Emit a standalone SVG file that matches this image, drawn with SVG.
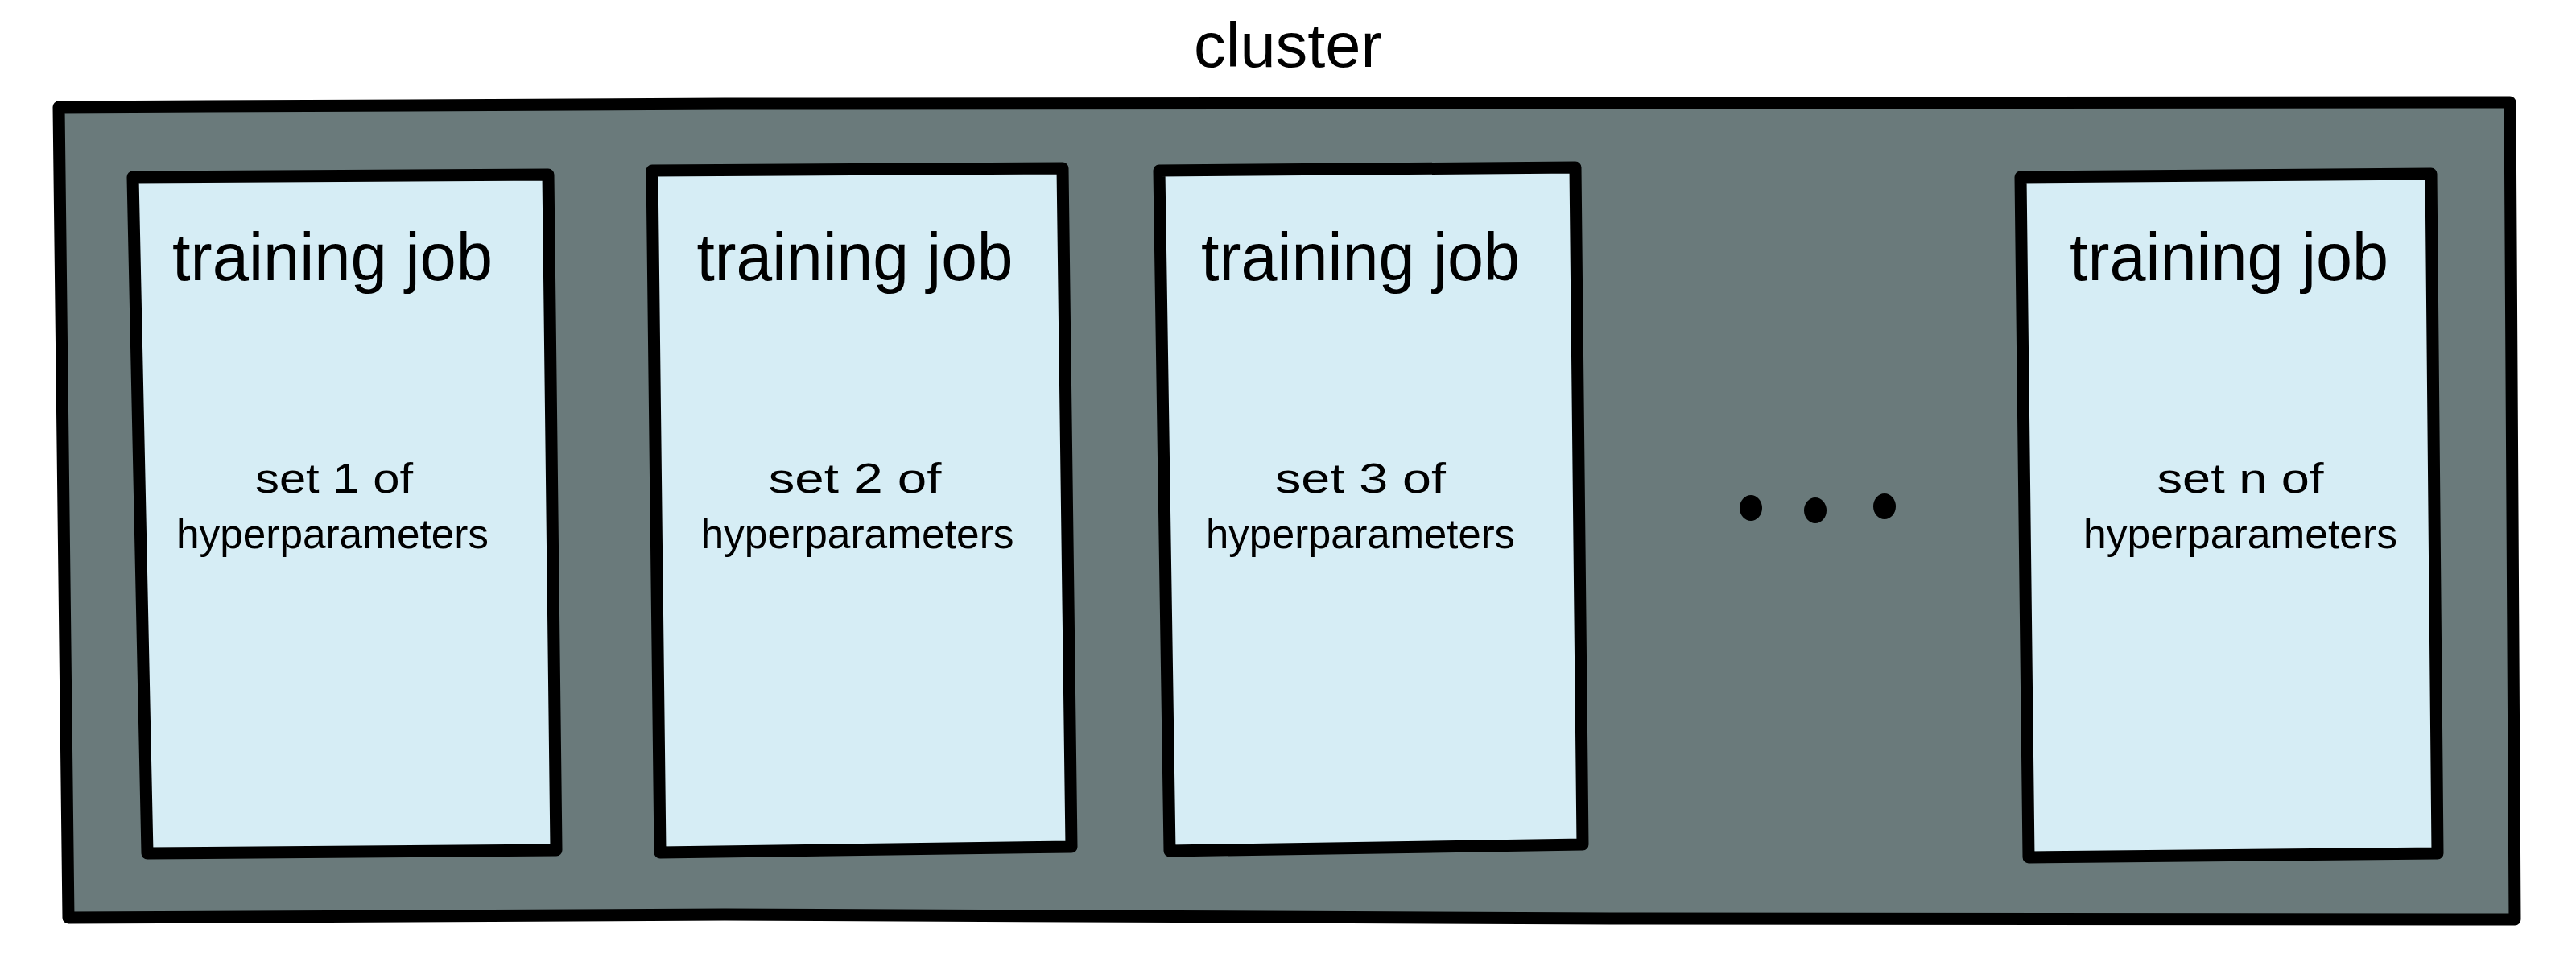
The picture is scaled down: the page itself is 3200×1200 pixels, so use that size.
<svg xmlns="http://www.w3.org/2000/svg" width="3200" height="1200" viewBox="0 0 3200 1200">
<style>
.cluster{fill:#6a7a7b;stroke:#000;stroke-width:15;stroke-linejoin:round}
.job{fill:#d6edf5;stroke:#000;stroke-width:15;stroke-linejoin:round}
.t{font-family:"Liberation Sans",Arial,sans-serif;fill:#000;text-anchor:middle}
.title{font-size:84px}
.sub{font-size:52px}
.lbl{font-size:78px}
.dot{fill:#000}
</style>
<rect width="3200" height="1200" fill="#fff"/>
<g id="cluster">
<path class="cluster" d="M73,133 L900,129 L2000,128 L3118,127 L3124,1142 L2000,1141 L900,1136 L85,1140 Z"/>
<text class="t lbl" x="1600" y="83" textLength="234" lengthAdjust="spacingAndGlyphs">cluster</text>
</g>
<g id="job1">
<path class="job" d="M165,220 L681,217 L691,1056 L183,1060 Z"/>
<text class="t title" x="413" y="348" textLength="398" lengthAdjust="spacingAndGlyphs">training job</text>
<text class="t sub" x="415" y="612" textLength="196" lengthAdjust="spacingAndGlyphs">set 1 of</text>
<text class="t sub" x="413" y="681" textLength="388" lengthAdjust="spacingAndGlyphs">hyperparameters</text>
</g>
<g id="job2">
<path class="job" d="M810,212 L1320,209 L1331,1052 L820,1059 Z"/>
<text class="t title" x="1062" y="348" textLength="393" lengthAdjust="spacingAndGlyphs">training job</text>
<text class="t sub" x="1062" y="612" textLength="215" lengthAdjust="spacingAndGlyphs">set 2 of</text>
<text class="t sub" x="1065" y="681" textLength="389" lengthAdjust="spacingAndGlyphs">hyperparameters</text>
</g>
<g id="job3">
<path class="job" d="M1440,212 L1957,208 L1966,1049 L1453,1057 Z"/>
<text class="t title" x="1690" y="348" textLength="396" lengthAdjust="spacingAndGlyphs">training job</text>
<text class="t sub" x="1690" y="612" textLength="212" lengthAdjust="spacingAndGlyphs">set 3 of</text>
<text class="t sub" x="1690" y="681" textLength="384" lengthAdjust="spacingAndGlyphs">hyperparameters</text>
</g>
<g id="ellipsis">
<ellipse class="dot" cx="2175" cy="631" rx="14" ry="16"/>
<ellipse class="dot" cx="2255" cy="634" rx="14" ry="16"/>
<ellipse class="dot" cx="2341" cy="629" rx="14" ry="16"/>
</g>
<g id="jobn">
<path class="job" d="M2510,220 L3020,216 L3028,1060 L2520,1065 Z"/>
<text class="t title" x="2769" y="348" textLength="396" lengthAdjust="spacingAndGlyphs">training job</text>
<text class="t sub" x="2783" y="612" textLength="207" lengthAdjust="spacingAndGlyphs">set n of</text>
<text class="t sub" x="2783" y="681" textLength="390" lengthAdjust="spacingAndGlyphs">hyperparameters</text>
</g>
<g id="connectors"></g>
</svg>
